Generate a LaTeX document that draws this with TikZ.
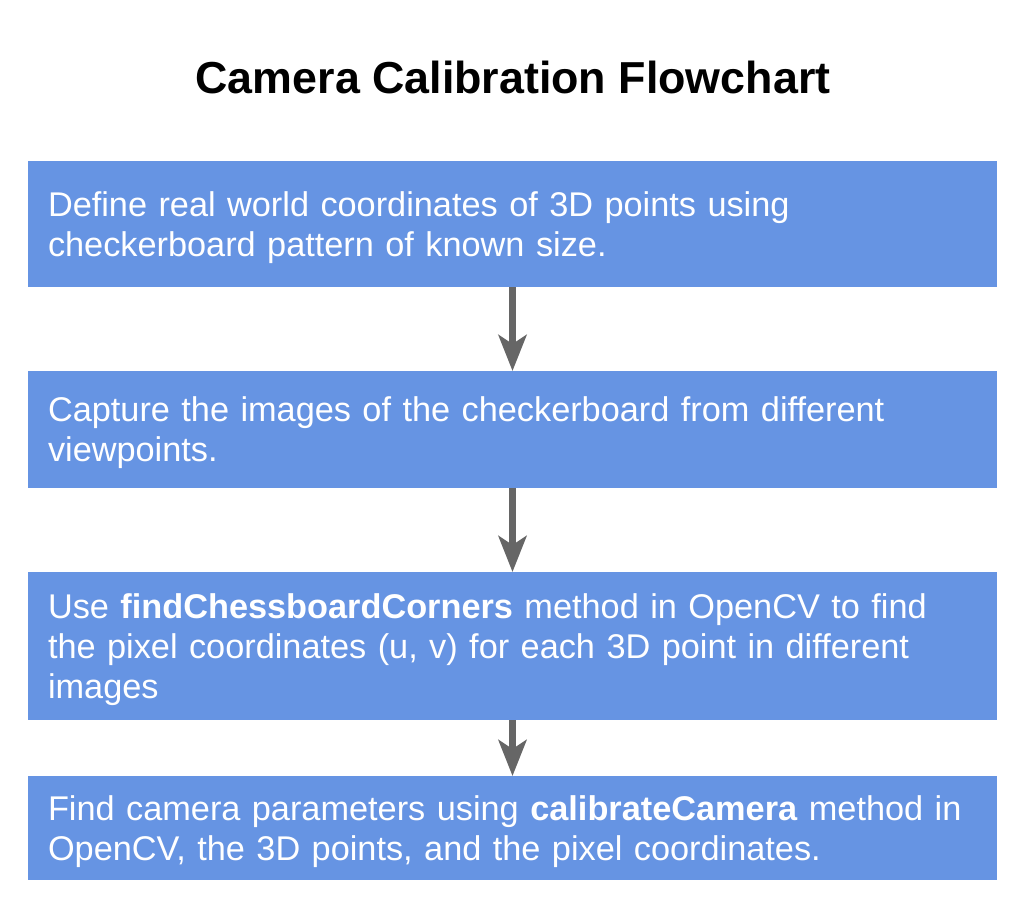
\documentclass[tikz,border=0pt]{standalone}
\usepackage{fontspec}
\setmainfont{Liberation Sans}
\usetikzlibrary{arrows.meta, positioning}
\definecolor{boxblue}{HTML}{6694E3}
\definecolor{arrowgray}{HTML}{666666}

\begin{document}
\begin{tikzpicture}[x=1pt, y=-1pt, ->, >={Stealth[length=36pt, width=28pt, inset=9pt]},
  every node/.style = {align=left, font=\fontsize{34.3}{40}\selectfont},
  task/.style = {fill=boxblue, text=white, minimum width=969pt, text width=929pt,
                 inner xsep=20pt, inner ysep=0pt, anchor=north, text height=31pt},
  link/.style = {draw=arrowgray, line width=6.5pt}]
  \useasboundingbox (0,0) rectangle (1024,910);
  \node[anchor=base, font=\fontsize{44.8}{54}\selectfont\bfseries] (title) at (513,93) {Camera Calibration Flowchart};
  \node[task, minimum height=126pt] (define) at (512.5,161)
    {Define real world coordinates of 3D points using\\checkerboard pattern of known size.};
  \node[task, minimum height=117pt] (capture) at (512.5,371)
    {Capture the images of the checkerboard from different\\viewpoints.};
  \node[task, minimum height=148pt] (find) at (512.5,572)
    {Use \textbf{findChessboardCorners} method in OpenCV to find\\the pixel coordinates (u, v) for each 3D point in different\\images};
  \node[task, minimum height=104pt] (calib) at (512.5,776)
    {Find camera parameters using \textbf{calibrateCamera} method in\\OpenCV, the 3D points, and the pixel coordinates.};
  % connectors
  \draw[link] (define.south) -- (capture.north);
  \draw[link] (capture.south) -- (find.north);
  \draw[link] (find.south) -- (calib.north);
\end{tikzpicture}
\end{document}
